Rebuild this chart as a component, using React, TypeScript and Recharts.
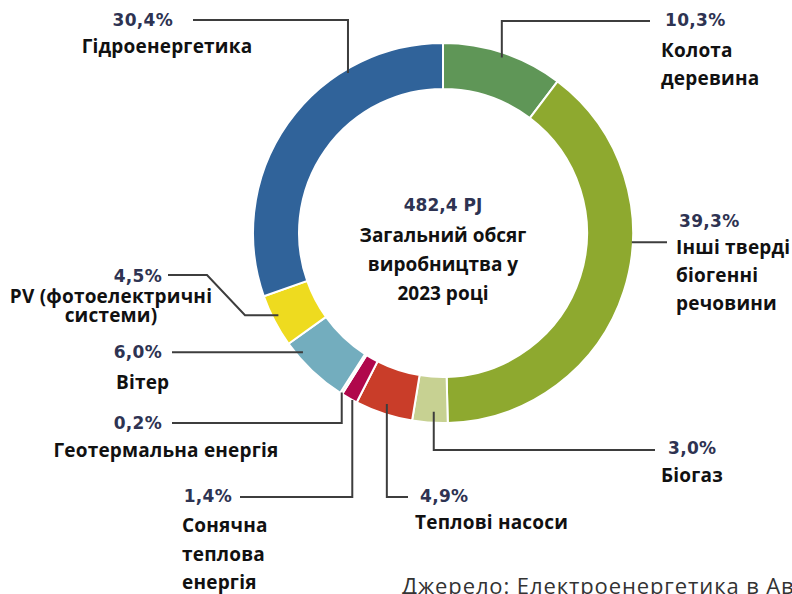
import React from "react";
import { PieChart, Pie, Cell } from "recharts";

const categories = [
  "Колота деревина",
  "Інші тверді біогенні речовини",
  "Біогаз",
  "Теплові насоси",
  "Сонячна теплова енергія",
  "Геотермальна енергія",
  "Вітер",
  "PV (фотоелектричні системи)",
  "Гідроенергетика",
];
const shares = [10.3, 39.3, 3.0, 4.9, 1.4, 0.2, 6.0, 4.5, 30.4];
const shareLabels = ["10,3%", "39,3%", "3,0%", "4,9%", "1,4%", "0,2%", "6,0%", "4,5%", "30,4%"];
const nameLines = [
  ["Колота", "деревина"],
  ["Інші тверді", "біогенні", "речовини"],
  ["Біогаз"],
  ["Теплові насоси"],
  ["Сонячна", "теплова", "енергія"],
  ["Геотермальна енергія"],
  ["Вітер"],
  ["PV (фотоелектричні", "системи)"],
  ["Гідроенергетика"],
];
const totalLabel = "482,4 PJ";
const centerLines = ["Загальний обсяг", "виробництва у", "2023 році"];
const sourceText = "Джерело: Електроенергетика в Австрії";

const colors = ["#5f9657", "#8ea92f", "#c7d192", "#c93d29", "#b0084b", "#ddd6bb", "#73adbe", "#eedb1f", "#30639a"];

const data = categories.map((c, i) => ({ name: c, value: shares[i] }));

type Layout = {
  dAng: number;
  dR: number;
  route: (ax: number, ay: number) => number[][];
  pct: { x: number; y: number; anchor: "start" | "middle" | "end" };
  names: { x: number; y: number[]; anchor: "start" | "middle" | "end" };
};

const layouts: Layout[] = [
  {
    dAng: 0, dR: -5,
    route: (ax, ay) => [[ax, ay], [ax, 21], [650, 21]],
    pct: { x: 665, y: 20, anchor: "start" },
    names: { x: 661, y: [50, 78], anchor: "start" },
  },
  {
    dAng: -15, dR: -1,
    route: (ax, ay) => [[ax, ay], [667, ay]],
    pct: { x: 679, y: 221, anchor: "start" },
    names: { x: 676, y: [247, 275, 303], anchor: "start" },
  },
  {
    dAng: -1, dR: -11,
    route: (ax, ay) => [[ax, ay], [ax, 450], [655, 450]],
    pct: { x: 668, y: 448, anchor: "start" },
    names: { x: 661, y: [475], anchor: "start" },
  },
  {
    dAng: 0, dR: -10,
    route: (ax, ay) => [[ax, ay], [ax, 497], [408, 497]],
    pct: { x: 420, y: 496, anchor: "start" },
    names: { x: 415, y: [522], anchor: "start" },
  },
  {
    dAng: -1, dR: 0,
    route: (ax, ay) => [[ax, ay], [ax, 497], [240, 497]],
    pct: { x: 232, y: 496, anchor: "end" },
    names: { x: 182, y: [525, 554, 582], anchor: "start" },
  },
  {
    dAng: 0, dR: -1,
    route: (ax, ay) => [[ax, ay], [ax, 423], [172, 423]],
    pct: { x: 162, y: 423, anchor: "end" },
    names: { x: 166, y: [450], anchor: "middle" },
  },
  {
    dAng: 6, dR: -6,
    route: (ax, ay) => [[ax, ay], [172, ay]],
    pct: { x: 162, y: 352, anchor: "end" },
    names: { x: 116, y: [382], anchor: "start" },
  },
  {
    dAng: 1, dR: -6,
    route: (ax, ay) => [[ax, ay], [245, ay], [207, 275], [168, 275]],
    pct: { x: 162, y: 276, anchor: "end" },
    names: { x: 111, y: [296, 315], anchor: "middle" },
  },
  {
    dAng: 24, dR: -4,
    route: (ax, ay) => [[ax, ay], [ax, 20], [193, 20]],
    pct: { x: 173, y: 20, anchor: "end" },
    names: { x: 167, y: [46], anchor: "middle" },
  },
];

const RAD = Math.PI / 180;
const NAME_FONT = "'Open Sans', 'Noto Sans', sans-serif";
const PCT_FONT = "'DejaVu Sans', Roboto, sans-serif";

const renderLabel = (props: any) => {
  const { cx, cy, midAngle, outerRadius, index } = props;
  const L = layouts[index];
  const a = (midAngle - L.dAng) * RAD;
  const r = outerRadius + L.dR;
  const ax = cx + r * Math.cos(a);
  const ay = cy - r * Math.sin(a);
  const pts = L.route(ax, ay);
  return (
    <g key={`lbl-${index}`}>
      <polyline
        points={pts.map((p) => p.join(",")).join(" ")}
        fill="none"
        stroke="#3d3d3d"
        strokeWidth={2}
      />
      <text
        x={L.pct.x}
        y={L.pct.y}
        textAnchor={L.pct.anchor}
        dominantBaseline="central"
        fontFamily={PCT_FONT}
        fontWeight={700}
        fontSize={17}
        letterSpacing={0.3}
        fill="#2e3352"
      >
        {shareLabels[index]}
      </text>
      {nameLines[index].map((line, j) => (
        <text
          key={j}
          x={L.names.x}
          y={L.names.y[j]}
          textAnchor={L.names.anchor}
          dominantBaseline="central"
          fontFamily={NAME_FONT}
          fontWeight={700}
          fontSize={19}
          letterSpacing={0.2}
          fill="#111"
        >
          {line}
        </text>
      ))}
    </g>
  );
};

export default function App() {
  return (
    <div style={{ position: "absolute", left: 0, top: 0, width: 792, height: 594, background: "#fff" }}>
      <PieChart width={792} height={594} margin={{ top: 0, right: 0, bottom: 0, left: 0 }}>
        <Pie
          data={data}
          dataKey="value"
          nameKey="name"
          cx={443}
          cy={233}
          innerRadius={144}
          outerRadius={190}
          startAngle={90}
          endAngle={-270}
          stroke="#ffffff"
          strokeWidth={2}
          isAnimationActive={false}
          labelLine={false}
          label={renderLabel}
        >
          {data.map((d, i) => (
            <Cell key={d.name} fill={colors[i]} />
          ))}
        </Pie>
        <text x={443} y={205} textAnchor="middle" dominantBaseline="central" fontFamily={PCT_FONT} fontWeight={700} fontSize={17} fill="#2e3352">
          {totalLabel}
        </text>
        {centerLines.map((line, i) => (
          <text key={i} x={443} y={235 + i * 29} textAnchor="middle" dominantBaseline="central" fontFamily={NAME_FONT} fontWeight={700} fontSize={19} fill="#111">
            {line}
          </text>
        ))}
        <text x={402} y={585} dominantBaseline="central" fontFamily={NAME_FONT} fontSize={22} letterSpacing={0.9} fill="#333">
          {sourceText}
        </text>
      </PieChart>
    </div>
  );
}
